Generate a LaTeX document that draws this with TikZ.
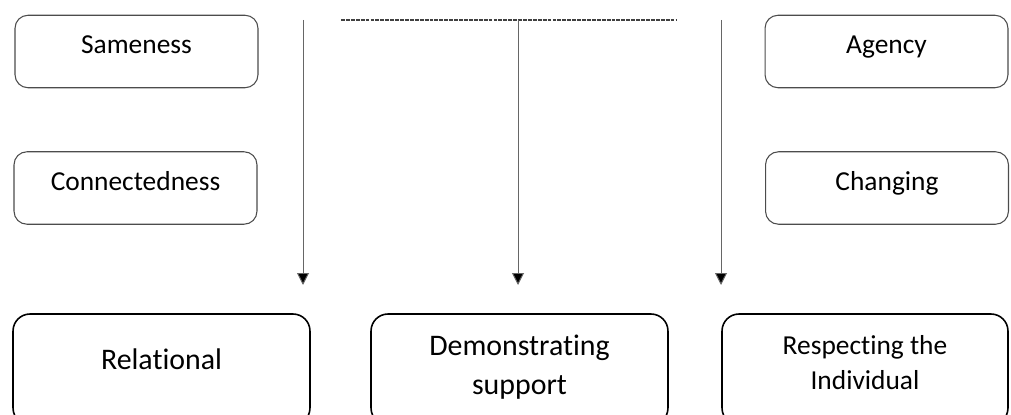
\documentclass[tikz,border=0pt]{standalone}
\usepackage{fontspec}
\setmainfont{Carlito}[Ligatures={NoCommon}]
\usetikzlibrary{calc,arrows.meta,positioning}

\begin{document}
\begin{tikzpicture}[x=0.02cm,y=-0.02cm]

\tikzset{topbox/.style={draw=black!70,line width=0.6pt,rounded corners=2.6mm,minimum width=4.86cm,minimum height=1.45cm,inner sep=0pt},
bottombox/.style={draw=black,line width=0.9pt,rounded corners=3.4mm,minimum height=2.22cm,inner sep=0pt},
toptext/.style={font=\fontsize{15.6}{18}\selectfont,anchor=base,inner sep=0pt},
bottomtext/.style={font=\fontsize{17}{22.5}\selectfont,align=center,inner sep=0pt},
down/.style={draw=black!60,line width=0.55pt,-{Triangle[length=2.4mm,width=2.4mm,fill=black]}}}

% Frame
\clip (0,0) rectangle (1011,415);

% Top boxes
\node[topbox] (same) at (136.5,51.5) {};
\node[topbox] (conn) at (135.5,188) {};
\node[topbox] (agen) at (886.5,51.5) {};
\node[topbox] (chan) at (887,188) {};
\node[toptext] (sameT) at ($(same.north)+(0,39)$) {Sameness};
\node[toptext] (connT) at ($(conn.north)+(0,39)$) {Connectedness};
\node[toptext] (agenT) at ($(agen.north)+(0,39)$) {Agency};
\node[toptext] (chanT) at ($(chan.north)+(0,39)$) {Changing};

% Bottom boxes
\node[bottombox,minimum width=5.94cm] (rel) at (161.5,369.5) {};
\node[bottombox,minimum width=5.94cm] (demo) at (519.5,369.5) {};
\node[bottombox,minimum width=5.72cm] (resp) at (865,369.5) {};
\node[bottomtext,anchor=base] (relT) at ($(rel.north)+(0,56)$) {Relational};
\node[bottomtext] (demoT) at ($(demo.north)+(0,54)$) {Demonstrating\\support};
\node[bottomtext,font=\fontsize{15.6}{19.8}\selectfont] (respT) at ($(resp.north)+(0,49)$) {Respecting the\\Individual};

% Dashed line
\coordinate (dl) at (341,20);
\coordinate (dr) at (677,20);
\draw[black!75,line width=0.6pt,dash pattern=on 2.2pt off 0.6pt] (dl) -- (dr);

% Arrows
\foreach \x/\n in {303/l,518/m,721/r} {
  \coordinate (\n top) at (\x,20);
  \coordinate (\n tip) at (\x,285);
  \draw[down] (\n top) -- (\n tip);
}

\end{tikzpicture}
\end{document}
